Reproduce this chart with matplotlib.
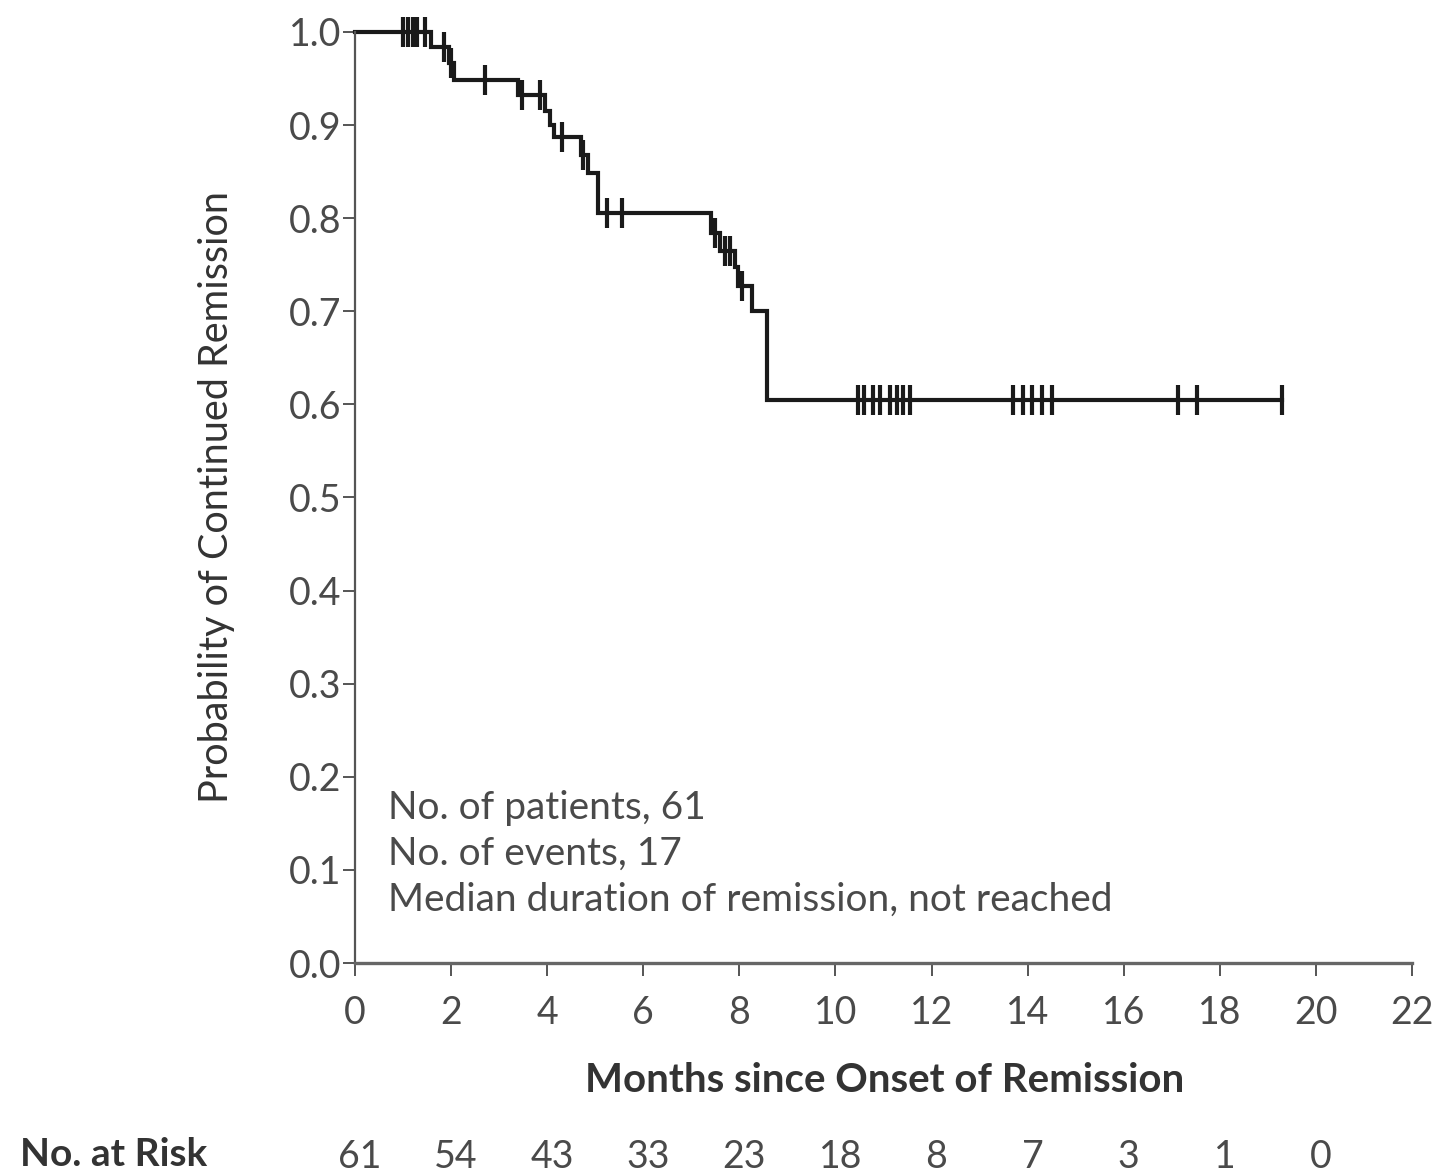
import numpy as np
import matplotlib
matplotlib.use("Agg")
import matplotlib.pyplot as plt
import matplotlib.transforms as mtransforms

plt.rcParams['font.family'] = ['Lato', 'DejaVu Sans']

# Kaplan-Meier steps: time of each drop (months) and survival level after it
event_times = [0.0, 1.58, 1.95, 2.07, 3.40, 3.95, 4.05, 4.15, 4.70, 4.85, 5.06,
               7.40, 7.60, 7.90, 7.98, 8.27, 8.57]
surv_prob = [1.0, 0.984, 0.967, 0.948, 0.932, 0.915, 0.900, 0.887, 0.868, 0.849, 0.806,
             0.784, 0.765, 0.748, 0.727, 0.700, 0.605]

# censored observations (months)
censor_times = [1.0, 1.1, 1.2, 1.3, 1.45, 1.85, 2.0, 2.7, 3.47, 3.85, 4.3, 4.75,
                5.24, 5.56, 7.5, 7.7, 7.8, 8.05,
                10.47, 10.6, 10.78, 10.93, 11.13, 11.28, 11.41, 11.55,
                13.7, 13.9, 14.1, 14.3, 14.5, 17.13, 17.52, 19.29]

risk_months = [0, 2, 4, 6, 8, 10, 12, 14, 16, 18, 20]
at_risk = [61, 54, 43, 33, 23, 18, 8, 7, 3, 1, 0]

info_lines = ["No. of patients, 61",
              "No. of events, 17",
              "Median duration of remission, not reached"]

tick_col = '#4a4a4a'
text_col = '#333333'

fig = plt.figure(figsize=(14.4, 11.75), dpi=100)
ax = fig.add_axes([0.2465, 0.1804, 0.7341, 0.7924])

# survival curve, extended to the last follow-up
xs = event_times + [max(censor_times)]
ys = surv_prob + [surv_prob[-1]]
ax.plot(xs, ys, drawstyle='steps-post', color='#1a1a1a', lw=3.0, clip_on=False,
        solid_joinstyle='miter')

# censor ticks sit on the curve
idx = np.searchsorted(event_times, censor_times, side='right') - 1
cy = np.array(surv_prob)[idx]
ax.plot(censor_times, cy, ls='none', marker='|', ms=21, mew=3.0, color='#1a1a1a',
        clip_on=False)

ax.set_xlim(0, 22)
ax.set_ylim(0, 1.0)
ax.set_xticks(range(0, 23, 2))
ax.set_yticks(np.arange(0, 1.01, 0.1))
ax.set_yticklabels([f"{v:.1f}" for v in np.arange(0, 1.01, 0.1)])

for s in ['top', 'right']:
    ax.spines[s].set_visible(False)
ax.spines['left'].set_color('#555555')
ax.spines['left'].set_linewidth(1.6)
ax.spines['bottom'].set_color('#666666')
ax.spines['bottom'].set_linewidth(2.4)

ax.tick_params(axis='both', direction='out', length=9, width=1.4, color='#555555',
               labelsize=27, labelcolor=tick_col)
ax.tick_params(axis='y', pad=1)
ax.tick_params(axis='x', pad=14)

ax.text(-0.131, 0.5, "Probability of Continued Remission", transform=ax.transAxes,
        rotation=90, ha='center', va='center', fontsize=28.5, color=text_col)
ax.text(0.5014, -0.1257, "Months since Onset of Remission", transform=ax.transAxes,
        ha='center', va='center', fontsize=29, fontweight='bold', color=text_col)

for i, line in enumerate(info_lines):
    ax.text(0.69, 0.1665 - i * 0.0495, line, ha='left', va='center',
            fontsize=28, color=tick_col)

# number at risk row under the axis
trans = mtransforms.blended_transform_factory(ax.transData, ax.transAxes)
for m, n in zip(risk_months, at_risk):
    ax.text(m + 0.1, -0.208, str(n), transform=trans, ha='center', va='center',
            fontsize=27, color=tick_col)
fig.text(20 / 1440, 1 - 1155 / 1175, "No. at Risk", ha='left', va='center',
         fontsize=28, fontweight='bold', color=text_col)

fig.savefig('out.png', dpi=100, facecolor='white')
